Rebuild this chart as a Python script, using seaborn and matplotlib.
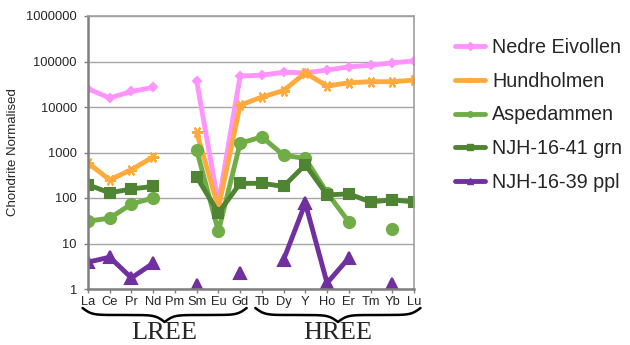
import numpy as np
import pandas as pd
import matplotlib
matplotlib.use("Agg")
import matplotlib.pyplot as plt
import seaborn as sns
from matplotlib.ticker import FixedLocator, FuncFormatter
from matplotlib.lines import Line2D
import matplotlib.transforms as mtransforms

nan = np.nan
elements = ["La", "Ce", "Pr", "Nd", "Pm", "Sm", "Eu", "Gd", "Tb", "Dy", "Y",
            "Ho", "Er", "Tm", "Yb", "Lu"]

nedre_eivollen = [25000, 15800, 22000, 27000, nan, 37000, 75, 48000, 50000,
                  58000, 56000, 65000, 76000, 83000, 93000, 103000]
hundholmen = [590, 250, 420, 800, nan, 2800, 60, 11000, 16500, 23000, 56000,
              29000, 34000, 36000, 36000, 39000]
aspedammen = [31, 36, 74, 100, nan, 1130, 18.6, 1600, 2200, 870, 740, 130, 30,
              nan, 21, nan]
njh_41_grn = [195, 130, 158, 180, nan, 290, 47, 210, 210, 180, 540, 117, 123,
              82, 91, 82]
njh_39_ppl = [3.9, 5.0, 1.75, 3.7, nan, 1.2, nan, 2.2, nan, 4.4, 77, 1.35, 4.8,
              nan, 1.3, nan]

series_names = ["Nedre Eivollen", "Hundholmen", "Aspedammen",
                "NJH-16-41 grn", "NJH-16-39 ppl"]
series_values = [nedre_eivollen, hundholmen, aspedammen, njh_41_grn, njh_39_ppl]
colors = ["#FF94FF", "#FFAA3C", "#70AD47", "#4F8432", "#7030A0"]
markers = ["D", (6, 2, 90), "o", "s", "^"]
msizes = [4, 8, 8, 7, 9]
group_labels = ["LREE", "HREE"]

sns.set_style("white")
plt.rcParams["font.family"] = ["Liberation Sans", "DejaVu Sans"]

fig = plt.figure(figsize=(6.3, 3.45), dpi=100)
ax = fig.add_axes([88 / 630, 1 - 289 / 345, (414 - 88) / 630, (289 - 16) / 345])

rows = []
for name, vals in zip(series_names, series_values):
    seg = 0
    prev_nan = True
    for i, v in enumerate(vals):
        if np.isnan(v):
            prev_nan = True
            continue
        if prev_nan:
            seg += 1
        prev_nan = False
        rows.append({"series": name, "x": i, "value": v, "seg": seg})
df = pd.DataFrame(rows)

handles = []
for name, c, m, ms in zip(series_names, colors, markers, msizes):
    sub = df[df["series"] == name]
    sns.lineplot(data=sub, x="x", y="value", units="seg", estimator=None,
                 color=c, marker=m, markersize=ms, markeredgecolor=c,
                 markeredgewidth=1.5, linewidth=3.5, ax=ax, legend=False,
                 sort=False)
    handles.append(Line2D([0], [0], color=c, lw=3.5, marker=m, markersize=4,
                          markeredgecolor=c, label=name))

ax.set_yscale("log")
ax.set_ylim(1, 1e6)
ax.set_xlim(0, len(elements) - 1)
ax.yaxis.set_major_locator(FixedLocator([10 ** k for k in range(7)]))
ax.yaxis.set_minor_locator(FixedLocator([]))
ax.yaxis.set_major_formatter(FuncFormatter(lambda v, p: f"{int(round(v))}"))
ax.set_xticks(range(len(elements)))
ax.set_xticklabels(elements)
ax.tick_params(axis="both", labelsize=9.3, length=3, width=1, color="#808080",
               direction="out", pad=2)
ax.tick_params(axis="x", bottom=True)
ax.tick_params(axis="y", left=True, pad=5)
ax.grid(axis="y", color="#A6A6A6", linewidth=1)
ax.set_axisbelow(True)
ax.set_xlabel("")
ax.set_ylabel("Chondrite Normalised", fontsize=9.5, labelpad=5)
for s in ["left", "bottom"]:
    ax.spines[s].set_color("#7F7F7F")
    ax.spines[s].set_linewidth(1.8)
for s in ["top", "right"]:
    ax.spines[s].set_color("#A0A0A0")
    ax.spines[s].set_linewidth(1.2)

fig.legend(handles=handles, loc="upper left", bbox_to_anchor=(447 / 630, 1 - 30 / 345),
           frameon=False, fontsize=14.2, handlelength=1.55, handletextpad=0.35,
           labelspacing=0.75, borderaxespad=0)

# curly braces below tick labels
trans = mtransforms.blended_transform_factory(ax.transData, fig.transFigure)


def brace(x0, x1, ytop, depth):
    n = 201
    xs = np.linspace(x0, x1, n)
    half = xs[: n // 2 + 1]
    beta = 12.0 / (x1 - x0) * 3
    yh = (1 / (1 + np.exp(-beta * (half - half[0]))) +
          1 / (1 + np.exp(-beta * (half - half[-1]))))
    yy = np.concatenate((yh, yh[-2::-1]))
    yy = (yy - yy.min()) / (yy.max() - yy.min())
    ax.plot(xs, ytop - yy * depth, color="black", lw=1.8, transform=trans,
            clip_on=False)


brace(-0.25, 7.3, 1 - 308 / 345, 14 / 345)
brace(7.7, 15.3, 1 - 308 / 345, 14 / 345)
for lab, xc in zip(group_labels, [3.52, 11.5]):
    ax.text(xc, 1 - 333 / 345, lab, transform=trans, ha="center", va="center",
            fontsize=19, family=["Liberation Serif", "DejaVu Serif"])

fig.savefig("out.png", dpi=100)
